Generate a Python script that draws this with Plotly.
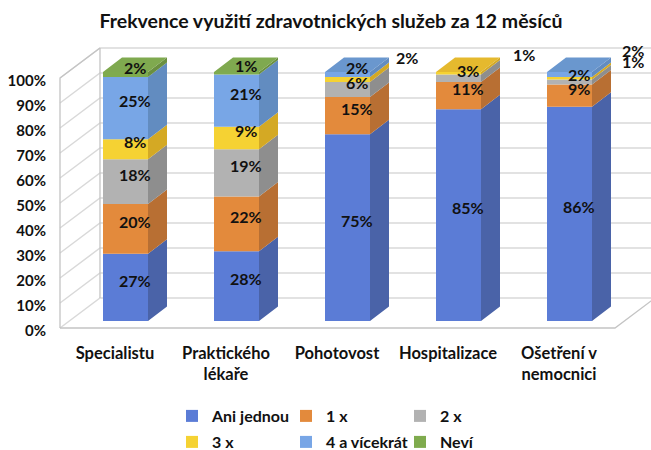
import plotly.graph_objects as go

title = "Frekvence využití zdravotnických služeb za 12 měsíců"
categories = ["Specialistu", "Praktického<br>lékaře", "Pohotovost", "Hospitalizace", "Ošetření v<br>nemocnici"]
series_names = ["Ani jednou", "1 x", "2 x", "3 x", "4 a vícekrát", "Neví"]
ani_jednou = [27, 28, 75, 85, 86]
jednou = [20, 22, 15, 11, 9]
dvakrat = [18, 19, 6, 3, 2]
trikrat = [8, 9, 2, 1, 1]
ctyrikrat = [25, 21, 2, 0, 2]
nevi = [2, 1, 0, 0, 0]
all_series = [ani_jednou, jednou, dvakrat, trikrat, ctyrikrat, nevi]
y_ticks = [0, 10, 20, 30, 40, 50, 60, 70, 80, 90, 100]

front = ["#5B7CD6", "#E38A3C", "#B2B2B2", "#F5D233", "#78A6E6", "#7FAB4E"]
side = ["#4A63A8", "#B86F33", "#8E8E8E", "#D4A924", "#628CC0", "#6A8F40"]
top = ["#4A63A8", "#B86F33", "#8E8E8E", "#E5B92E", "#6A97CE", "#7FA94F"]
FONT = "Lato"
W, H = 651, 450
L, B = 52, 112
PX = 111.0                     # pixels per category
bar_w = 45 / PX
dx, dv = 19 / PX, 14.5 / 2.49  # bar depth in axis units
wall_dx, wall_dv = 40 / PX, 12.0

# label nudges (pixels) for the labels Excel pulled out of the thin segments
label_nudge = {(3, 2): (50, 15), (3, 3): (56, 11), (3, 4): (54, 9), (4, 4): (54, 17)}

fig = go.Figure()

# chart walls, built on the value axis
wx0, wx1 = (60 - 115) / PX, (615 - 115) / PX
gx, gy = [], []
for v in y_ticks:
    gx += [wx0, wx0 + wall_dx, wx1 + wall_dx, None]
    gy += [v, v + wall_dv, v + wall_dv, None]
fig.add_trace(go.Scatter(x=gx, y=gy, mode="lines", line=dict(color="#D9D9D9", width=1.5),
                         hoverinfo="skip", showlegend=False, cliponaxis=True))
fig.add_trace(go.Scatter(
    x=[wx0 + wall_dx, wx0, wx0, None, wx0 + wall_dx, wx0 + wall_dx, None, wx0, wx1, wx1 + wall_dx],
    y=[100 + wall_dv, 100, 0, None, wall_dv, 100 + wall_dv, None, 0, 0, wall_dv],
    mode="lines", line=dict(color="#C4C4C4", width=1.3), hoverinfo="skip", showlegend=False))

idx = list(range(len(categories)))
bases = [0] * len(idx)
annotations = []
for s, vals in enumerate(all_series):
    group = "legend" if s < 3 else "legend2"
    fig.add_trace(go.Bar(x=idx, y=vals, base=bases, width=bar_w, name=series_names[s],
                         marker=dict(color=front[s], line=dict(width=0)),
                         xaxis="x2", yaxis="y2", legend=group, hoverinfo="y"))
    sx, sy, tx, ty = [], [], [], []
    for i in idx:
        v = vals[i]
        if v == 0:
            continue
        b, t = bases[i], bases[i] + v
        r = i + bar_w / 2
        sx += [r, r + dx, r + dx, r, r, None]
        sy += [b, b + dv, t + dv, t, b, None]
        later = sum(other[i] for other in all_series[s + 1:])
        if later == 0:
            lft = i - bar_w / 2
            tx += [lft, lft + dx, r + dx, r, lft, None]
            ty += [t, t + dv, t + dv, t, t, None]
        xs, ys = label_nudge.get((s, i), (0, 0))
        annotations.append(dict(x=i + dx / 2, y=(b + t) / 2 + dv / 2, xref="x2", yref="y2",
                                text=f"{v}%", showarrow=False, xshift=xs, yshift=ys,
                                font=dict(family=FONT, size=16, color="#111111", weight="bold")))
    fig.add_trace(go.Scatter(x=sx, y=sy, mode="lines", fill="toself", fillcolor=side[s],
                             line=dict(width=0, color=side[s]), xaxis="x2", yaxis="y2",
                             hoverinfo="skip", showlegend=False))
    if tx:
        fig.add_trace(go.Scatter(x=tx, y=ty, mode="lines", fill="toself", fillcolor=top[s],
                                 line=dict(width=0, color=top[s]), xaxis="x2", yaxis="y2",
                                 hoverinfo="skip", showlegend=False))
    bases = [a + c for a, c in zip(bases, vals)]

plot_h = H - B
plot_w = W - L
legend_font = dict(family=FONT, size=16, color="#111111", weight="bold")
leg_x = 172 / W
fig.update_layout(
    width=W, height=H, autosize=False,
    margin=dict(l=L, r=0, t=0, b=B),
    paper_bgcolor="white", plot_bgcolor="rgba(0,0,0,0)",
    barmode="overlay", annotations=annotations,
    title=dict(text=title, x=331 / W, xanchor="center", y=1 - 21 / H, yanchor="middle",
               font=dict(family=FONT, size=19.5, color="#111111", weight="bold")),
    xaxis=dict(range=[(L - 115) / PX, (W - 115) / PX], tickmode="array", tickvals=idx, ticktext=categories,
               showgrid=False, zeroline=False, showline=False, ticks="", ticklabelstandoff=3,
               tickfont=dict(family=FONT, size=16.5, color="#111111", weight="bold")),
    yaxis=dict(range=[(328 - plot_h) / 2.5, 328 / 2.5], tickmode="array", tickvals=y_ticks,
               ticktext=[f"{v}%" for v in y_ticks], showgrid=False, zeroline=False, showline=False,
               ticks="", ticklabelstandoff=5, ticklabelshift=3,
               tickfont=dict(family=FONT, size=15, color="#111111", weight="bold")),
    xaxis2=dict(range=[(L - 125.5) / PX, (W - 125.5) / PX], overlaying="x", visible=False),
    yaxis2=dict(range=[(321 - plot_h) / 2.49, 321 / 2.49], overlaying="y", visible=False),
    legend=dict(orientation="h", xref="container", yref="container", x=leg_x, xanchor="left",
                y=1 - 416 / H, yanchor="middle", entrywidth=69, entrywidthmode="pixels",
                font=legend_font, bgcolor="rgba(0,0,0,0)", traceorder="normal"),
    legend2=dict(orientation="h", xref="container", yref="container", x=leg_x, xanchor="left",
                 y=1 - 442 / H, yanchor="middle", entrywidth=69, entrywidthmode="pixels",
                 font=legend_font, bgcolor="rgba(0,0,0,0)", traceorder="normal"),
)
fig.write_html("out.html", post_script="document.body.style.margin='0';", config={"displayModeBar": False})
